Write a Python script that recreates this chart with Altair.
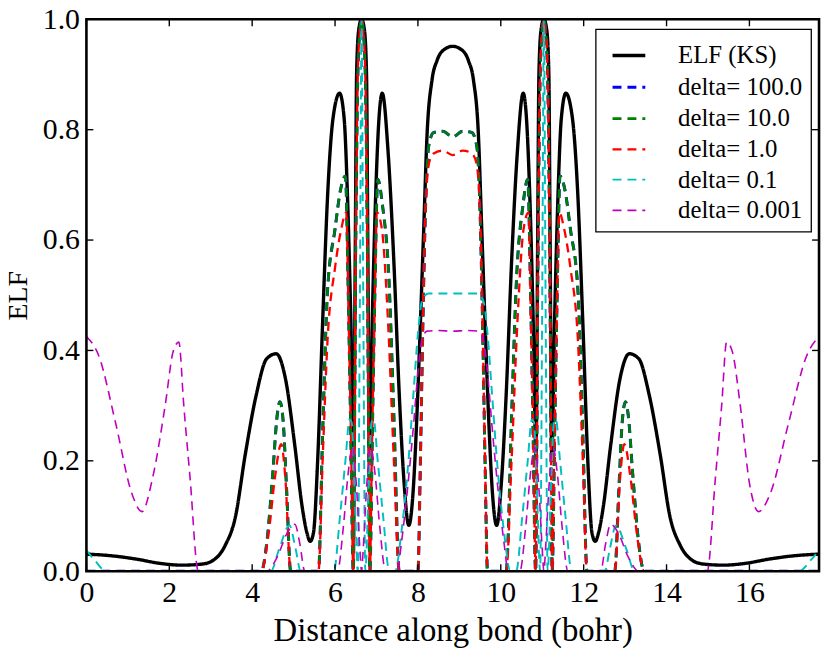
import altair as alt
import pandas as pd

FONT = "Liberation Serif"
X_MAX = 17.68

SERIES = ["ELF (KS)", "delta= 100.0", "delta= 10.0", "delta= 1.0", "delta= 0.1", "delta= 0.001"]
COLORS = ["#000000", "#0000ff", "#008000", "#ff0000", "#00bfbf", "#bf00bf"]
X_TICKS = [0, 2, 4, 6, 8, 10, 12, 14, 16]
Y_TICKS = [0.0, 0.2, 0.4, 0.6, 0.8, 1.0]

ELF_X = [0.0, 0.6, 1.2, 1.8, 2.3, 2.8, 3.1, 3.35, 3.6, 3.83, 4.1, 4.35, 4.58, 4.8, 5.03, 5.2, 5.32, 5.40, 5.48, 5.58,
         5.7, 5.82, 5.95, 6.11, 6.22, 6.30, 6.38, 6.45, 6.49, 6.52, 6.57, 6.64, 6.71, 6.76, 6.79, 6.83, 6.9, 6.98,
         7.06, 7.14, 7.28, 7.42, 7.55, 7.66, 7.78, 7.88, 7.98, 8.06, 8.14, 8.22, 8.34, 8.46, 8.65, 8.84,
         9.03, 9.22, 9.34, 9.46, 9.54, 9.62, 9.70, 9.80, 9.90, 10.02, 10.13, 10.26, 10.40, 10.54, 10.62, 10.70,
         10.78, 10.85, 10.89, 10.92, 10.97, 11.04, 11.11, 11.16, 11.19, 11.23, 11.30, 11.38, 11.46, 11.57, 11.73,
         11.86, 11.98, 12.10, 12.20, 12.28, 12.36, 12.48, 12.65, 12.88, 13.10, 13.33, 13.58, 13.85, 14.08, 14.33,
         14.58, 14.88, 15.38, 15.88, 16.48, 17.08, 17.68]
ELF_Y = [0.031, 0.028, 0.022, 0.014, 0.011, 0.013, 0.022, 0.047, 0.10, 0.21, 0.32, 0.385, 0.394, 0.35, 0.227, 0.12,
         0.07, 0.054, 0.07, 0.2, 0.45, 0.68, 0.82, 0.866, 0.82, 0.68, 0.46, 0.21, 0.6, 0.9, 0.98, 1.0, 0.98, 0.9,
         0.6, 0.21, 0.46, 0.68, 0.82, 0.866, 0.76, 0.56, 0.32, 0.167, 0.083, 0.14, 0.29, 0.45, 0.62, 0.79, 0.89,
         0.925, 0.946, 0.951,
         0.946, 0.925, 0.89, 0.79, 0.62, 0.45, 0.29, 0.14, 0.083, 0.167, 0.32, 0.56, 0.76, 0.866, 0.82, 0.68, 0.46,
         0.21, 0.6, 0.9, 0.98, 1.0, 0.98, 0.9, 0.6, 0.21, 0.46, 0.68, 0.82, 0.866, 0.82, 0.68, 0.45, 0.2, 0.07,
         0.054, 0.07, 0.12, 0.227, 0.35, 0.394, 0.385, 0.32, 0.21, 0.10, 0.047, 0.022, 0.013, 0.011, 0.014, 0.022,
         0.028, 0.031]

D10_X = [0.0, 4.22, 4.35, 4.5, 4.6, 4.67, 4.75, 4.83, 4.93, 5.6, 5.7, 5.82, 6.0, 6.13, 6.25, 6.32, 6.38, 6.44,
         6.5, 6.55, 6.6, 6.64, 6.68, 6.73, 6.78, 6.84, 6.9, 6.96, 7.03, 7.15, 7.3, 7.42, 7.55, 8.0, 8.06, 8.12,
         8.18, 8.26, 8.38, 8.6, 8.84,
         9.08, 9.30, 9.42, 9.50, 9.56, 9.62, 9.68, 10.13, 10.26, 10.38, 10.53, 10.65, 10.72, 10.78, 10.84, 10.90,
         10.95, 11.00, 11.04, 11.08, 11.13, 11.18, 11.24, 11.30, 11.36, 11.43, 11.55, 11.68, 11.86, 11.98, 12.08,
         12.75, 12.85, 12.93, 13.01, 13.08, 13.18, 13.33, 13.46, 17.68]
D10_Y = [0, 0, 0.05, 0.18, 0.28, 0.307, 0.27, 0.15, 0, 0, 0.25, 0.51, 0.62, 0.69, 0.716, 0.5, 0.25, 0, 0.6, 0.9,
         0.98, 1.0, 0.98, 0.9, 0.6, 0, 0.25, 0.5, 0.71, 0.66, 0.53, 0.28, 0, 0, 0.2, 0.45, 0.65, 0.77, 0.795,
         0.797, 0.787,
         0.797, 0.795, 0.77, 0.65, 0.45, 0.2, 0, 0, 0.28, 0.53, 0.66, 0.71, 0.5, 0.25, 0, 0.6, 0.9, 0.98, 1.0,
         0.98, 0.9, 0.6, 0, 0.25, 0.5, 0.716, 0.69, 0.62, 0.51, 0.25, 0, 0, 0.15, 0.27, 0.307, 0.28, 0.18, 0.05,
         0, 0]

# delta = 100.0 coincides with delta = 10.0 everywhere in the picture
D100_X = D10_X
D100_Y = D10_Y

D1_X = [0.0, 4.22, 4.4, 4.55, 4.7, 4.8, 4.93, 5.6, 5.7, 5.82, 6.0, 6.15, 6.27, 6.33, 6.39, 6.44, 6.5, 6.55, 6.6,
        6.64, 6.68, 6.73, 6.78, 6.84, 6.89, 6.95, 7.01, 7.13, 7.28, 7.42, 7.55, 8.0, 8.06, 8.12, 8.18, 8.27, 8.38,
        8.6, 8.84,
        9.08, 9.30, 9.41, 9.50, 9.56, 9.62, 9.68, 10.13, 10.26, 10.40, 10.55, 10.67, 10.73, 10.79, 10.84, 10.90,
        10.95, 11.00, 11.04, 11.08, 11.13, 11.18, 11.24, 11.29, 11.35, 11.41, 11.53, 11.68, 11.86, 11.98, 12.08,
        12.75, 12.88, 12.98, 13.13, 13.28, 13.46, 17.68]
D1_Y = [0, 0, 0.07, 0.17, 0.23, 0.17, 0, 0, 0.2, 0.42, 0.55, 0.62, 0.65, 0.45, 0.22, 0, 0.6, 0.9, 0.98, 1.0,
        0.98, 0.9, 0.6, 0, 0.22, 0.45, 0.65, 0.62, 0.45, 0.2, 0, 0, 0.2, 0.45, 0.65, 0.74, 0.757, 0.762, 0.754,
        0.762, 0.757, 0.74, 0.65, 0.45, 0.2, 0, 0, 0.2, 0.45, 0.62, 0.65, 0.45, 0.22, 0, 0.6, 0.9, 0.98, 1.0,
        0.98, 0.9, 0.6, 0, 0.22, 0.45, 0.65, 0.62, 0.55, 0.42, 0.2, 0, 0, 0.17, 0.23, 0.17, 0.07, 0, 0]

D01_X = [0.0, 0.2, 0.48, 4.45, 4.65, 4.9, 5.05, 5.17, 5.97, 6.12, 6.25, 6.35, 6.4, 6.47, 6.55, 6.6, 6.64, 6.68,
         6.73, 6.81, 6.88, 6.93, 7.03, 7.16, 7.31, 7.45, 7.6, 7.75, 7.9, 8.0, 8.1, 8.25, 8.84,
         9.43, 9.58, 9.68, 9.78, 9.93, 10.08, 10.23, 10.37, 10.52, 10.65, 10.75, 10.80, 10.87, 10.95, 11.0, 11.04,
         11.08, 11.13, 11.21, 11.28, 11.33, 11.43, 11.56, 11.71, 12.51, 12.63, 12.78, 13.03, 13.23, 17.2, 17.48,
         17.68]
D01_Y = [0.038, 0.02, 0, 0, 0.04, 0.083, 0.04, 0, 0, 0.1, 0.2, 0.275, 0.27, 0.15, 0, 0.5, 1.0, 0.5, 0, 0.15,
         0.27, 0.275, 0.2, 0.1, 0, 0, 0.07, 0.18, 0.33, 0.43, 0.49, 0.503, 0.503,
         0.503, 0.49, 0.43, 0.33, 0.18, 0.07, 0, 0, 0.1, 0.2, 0.275, 0.27, 0.15, 0, 0.5, 1.0, 0.5, 0, 0.15, 0.27,
         0.275, 0.2, 0.1, 0, 0, 0.04, 0.083, 0.04, 0, 0, 0.02, 0.038]

D0001_X = [0.0, 0.3, 0.7, 1.1, 1.34, 1.6, 1.9, 2.1, 2.23, 2.35, 2.5, 2.7, 4.35, 4.6, 4.85, 5.03, 5.15, 5.27, 6.06,
           6.2, 6.32, 6.42, 6.52, 6.6, 6.64, 6.68, 6.76, 6.86, 6.96, 7.08, 7.22, 7.5, 7.6, 7.75, 7.9, 8.0, 8.1,
           8.22, 8.5, 8.84,
           9.18, 9.46, 9.58, 9.68, 9.78, 9.93, 10.08, 10.18, 10.46, 10.60, 10.72, 10.82, 10.92, 11.0, 11.04, 11.08,
           11.16, 11.26, 11.36, 11.48, 11.62, 12.41, 12.53, 12.65, 12.83, 13.08, 13.33, 14.98, 15.18, 15.33, 15.45,
           15.58, 15.78, 16.0, 16.22, 16.5, 16.95, 17.38, 17.68]
D0001_Y = [0.425, 0.39, 0.27, 0.14, 0.108, 0.17, 0.3, 0.4, 0.415, 0.3, 0.17, 0, 0, 0.025, 0.07, 0.085, 0.05, 0, 0,
           0.08, 0.18, 0.225, 0.15, 0.04, 0, 0.04, 0.15, 0.225, 0.18, 0.08, 0, 0, 0.05, 0.15, 0.27, 0.36, 0.42,
           0.435, 0.436, 0.435,
           0.436, 0.435, 0.42, 0.36, 0.27, 0.15, 0.05, 0, 0, 0.08, 0.18, 0.225, 0.15, 0.04, 0, 0.04, 0.15, 0.225,
           0.18, 0.08, 0, 0, 0.05, 0.085, 0.07, 0.025, 0, 0, 0.17, 0.3, 0.415, 0.4, 0.3, 0.16, 0.108, 0.14, 0.27,
           0.39, 0.425]

CURVES = [(ELF_X, ELF_Y), (D100_X, D100_Y), (D10_X, D10_Y), (D1_X, D1_Y), (D01_X, D01_Y), (D0001_X, D0001_Y)]

rows = []
for name, (xs, ys) in zip(SERIES, CURVES):
    assert len(xs) == len(ys), name
    for i, (xv, yv) in enumerate(zip(xs, ys)):
        rows.append({"series": name, "x": xv, "y": yv, "idx": i})
df = pd.DataFrame(rows)

W, H = 738, 556

x_scale = alt.Scale(domain=[0, X_MAX], nice=False, zero=False)
y_scale = alt.Scale(domain=[0, 1], nice=False, zero=False)

x_axis = alt.Axis(values=X_TICKS, format="d", ticks=False, domain=False, grid=False,
                  labelFont=FONT, labelFontSize=30, labelPadding=7, labelColor="black",
                  title="Distance along bond (bohr)", titleFont=FONT, titleFontSize=33,
                  titleFontWeight="normal", titlePadding=7, titleColor="black", labelFlush=False)
y_axis = alt.Axis(values=Y_TICKS, format=".1f", ticks=False, domain=False, grid=False,
                  labelFont=FONT, labelFontSize=30, labelPadding=7, labelColor="black",
                  title="ELF", titleFont=FONT, titleFontSize=28, titleFontWeight="normal",
                  titlePadding=10, titleColor="black", labelFlush=False)

X_ENC = alt.X("x:Q", scale=x_scale, axis=x_axis)
Y_ENC = alt.Y("y:Q", scale=y_scale, axis=y_axis)

legend = alt.Legend(title=None, orient="none", legendX=513, legendY=10, padding=8,
                    strokeColor="black", fillColor="white", cornerRadius=0,
                    labelFont=FONT, labelFontSize=25, labelColor="black", labelOffset=31,
                    symbolType="stroke", symbolSize=1089, symbolOffset=7, rowPadding=0,
                    labelLimit=0)

DASHES = [[1, 0], [9, 6], [9, 6], [9, 6], [9, 6], [9, 6]]
WIDTHS = [3.4, 1.6, 1.6, 1.6, 1.6, 1.6]

color = alt.Color("series:N", scale=alt.Scale(domain=SERIES, range=COLORS), legend=legend)
dash = alt.StrokeDash("series:N", scale=alt.Scale(domain=SERIES, range=DASHES), legend=legend)
swidth = alt.StrokeWidth("series:N", scale=alt.Scale(domain=SERIES, range=WIDTHS), legend=legend)

layers = []
for name in SERIES:
    layers.append(
        alt.Chart(df).transform_filter(alt.datum.series == name)
        .mark_line(clip=True, interpolate="monotone")
        .encode(x=X_ENC, y=Y_ENC, color=color, strokeDash=dash, strokeWidth=swidth,
                order=alt.Order("idx:Q"))
    )

xt = pd.DataFrame({"x": X_TICKS})
yt = pd.DataFrame({"y": Y_TICKS})
tick_bottom = alt.Chart(xt).mark_rule(color="black", strokeWidth=1.4).encode(
    x=X_ENC, y=alt.value(H), y2=alt.value(H - 7))
tick_top = alt.Chart(xt).mark_rule(color="black", strokeWidth=1.4).encode(
    x=X_ENC, y=alt.value(0), y2=alt.value(7))
tick_left = alt.Chart(yt).mark_rule(color="black", strokeWidth=1.4).encode(
    y=Y_ENC, x=alt.value(0), x2=alt.value(7))
tick_right = alt.Chart(yt).mark_rule(color="black", strokeWidth=1.4).encode(
    y=Y_ENC, x=alt.value(W), x2=alt.value(W - 7))

frame = alt.Chart(pd.DataFrame({"a": [0]})).mark_rect(
    filled=False, stroke="black", strokeWidth=2.6).encode(
    x=alt.datum(0, scale=x_scale), x2=alt.datum(X_MAX),
    y=alt.datum(0, scale=y_scale), y2=alt.datum(1))

chart = alt.layer(*layers, tick_bottom, tick_top, tick_left, tick_right, frame).properties(
    width=W, height=H,
    autosize=alt.AutoSizeParams(type="none"),
    padding={"left": 79, "top": 9, "right": 4, "bottom": 77},
    background="white",
).configure_view(stroke=None).configure_legend(strokeWidth=1.3)

chart.save("out.html", embed_options={"renderer": "svg", "actions": False})
